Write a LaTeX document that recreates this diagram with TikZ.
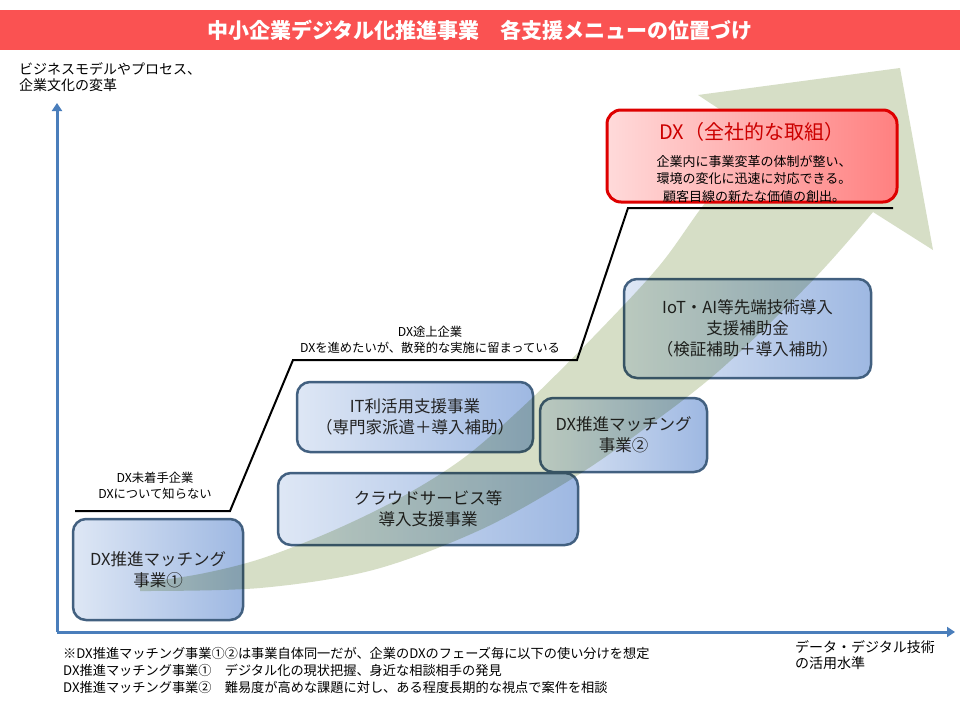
\documentclass[tikz,border=0pt]{standalone}
\usepackage{fontspec}
\setmainfont{Noto Sans CJK JP}
\usetikzlibrary{arrows.meta}
\definecolor{titlered}{RGB}{250,82,82}
\definecolor{axisblue}{RGB}{74,126,187}
\definecolor{boxborder}{RGB}{66,96,128}
\definecolor{boxleft}{RGB}{222,231,245}
\definecolor{boxright}{RGB}{158,184,226}
\definecolor{boxtext}{RGB}{35,35,35}
\definecolor{bandgreen}{RGB}{214,222,198}
\definecolor{redleft}{RGB}{255,218,218}
\definecolor{redright}{RGB}{255,128,128}
\definecolor{redborder}{RGB}{222,0,0}
\definecolor{redtitle}{RGB}{204,0,0}
\begin{document}
\begin{tikzpicture}[x=1pt,y=-1pt,
  bluebox/.style={draw=boxborder, line width=2.5pt, rounded corners=13pt,
    left color=boxleft, right color=boxright, align=center,
    font=\fontsize{16.5}{21}\selectfont, text=boxtext, inner sep=0pt},
  axisline/.style={draw=axisblue, line width=3pt, -{Triangle[width=10pt,length=8pt]}},
  stepline/.style={draw=black, line width=2pt},
  steplabel/.style={align=center, font=\fontsize{12.3}{16}\selectfont, inner sep=0pt},
  plain/.style={align=left, inner sep=0pt}
]
\useasboundingbox (0,0) rectangle (960,720);
\fill[white] (0,0) rectangle (960,720);

% title bar
\fill[titlered] (0,10) rectangle (960,50);
\node[text=white, font=\fontsize{21}{24}\selectfont\bfseries, inner sep=0pt] (title) at (480,30) {中小企業デジタル化推進事業　各支援メニューの位置づけ};

% axes
\coordinate (origin) at (57,632);
\coordinate (ytip) at (57,103);
\coordinate (xtip) at (955,632);
\draw[axisline] (origin) -- (ytip);
\draw[axisline] (origin) -- (xtip);

\node[plain, anchor=north west, font=\fontsize{14}{16.5}\selectfont] (ylab) at (19,62) {ビジネスモデルやプロセス、\\企業文化の変革};
\node[plain, anchor=north west, font=\fontsize{14}{16.5}\selectfont] (xlab) at (795,640) {データ・デジタル技術\\の活用水準};

% blue boxes
\node[bluebox, minimum width=170pt, minimum height=101pt] (m1) at (158,569.5) {DX推進マッチング\\事業①};
\node[bluebox, minimum width=300pt, minimum height=72pt] (cloud) at (428,509) {クラウドサービス等\\導入支援事業};
\node[bluebox, minimum width=236pt, minimum height=70pt] (it) at (415,417) {IT利活用支援事業\\（専門家派遣＋導入補助）};
\node[bluebox, minimum width=167pt, minimum height=74pt] (m2) at (623.5,435) {DX推進マッチング\\事業②};
\node[bluebox, minimum width=247pt, minimum height=99pt] (iot) at (747.5,328.5) {IoT・AI等先端技術導入\\支援補助金\\（検証補助＋導入補助）};

% big curved arrow
\begin{scope}[blend mode=multiply]
\fill[bandgreen] plot[smooth, tension=0.55] coordinates {(140,583) (200,574) (260,559) (330,532) (400,498) (465,457) (530,400) (600,330) (660,265) (705,203) (760,136)}
  -- (698,95) -- (900,68) -- (933,250) -- (873,212)
  -- plot[smooth, tension=0.55] coordinates {(873,212) (813,280) (720,370) (640,432) (570,480) (480,530) (373,570) (260,588) (140,591)}
  -- cycle;
\end{scope}

% step line
\coordinate (s0) at (75,511);
\coordinate (s1) at (230,511);
\coordinate (s2) at (293,360);
\coordinate (s3) at (577,360);
\coordinate (s4) at (628,208);
\coordinate (s5) at (893,208);
\draw[stepline] (s0) -- (s1) -- (s2) -- (s3) -- (s4) -- (s5);

\node[steplabel] (lab1) at (155,486) {DX未着手企業\\DXについて知らない};
\node[steplabel] (lab2) at (430,340) {DX途上企業\\DXを進めたいが、散発的な実施に留まっている};

% red DX box
\node[draw=redborder, line width=3pt, rounded corners=14pt, left color=redleft, right color=redright,
  minimum width=290pt, minimum height=92pt, inner sep=0pt] (dx) at (752,156) {};
\node[text=redtitle, font=\fontsize{20}{24}\selectfont, inner sep=0pt] (dxtitle) at (752,132) {DX（全社的な取組）};
\node[align=center, font=\fontsize{13}{17.5}\selectfont, inner sep=0pt] (dxbody) at (754,179) {企業内に事業変革の体制が整い、\\環境の変化に迅速に対応できる。\\顧客目線の新たな価値の創出。};

% footnotes
\node[plain, anchor=north west, font=\fontsize{13.2}{17}\selectfont] (notes) at (63,647) {※DX推進マッチング事業①②は事業自体同一だが、企業のDXのフェーズ毎に以下の使い分けを想定\\DX推進マッチング事業①　デジタル化の現状把握、身近な相談相手の発見\\DX推進マッチング事業②　難易度が高めな課題に対し、ある程度長期的な視点で案件を相談};
\end{tikzpicture}
\end{document}
